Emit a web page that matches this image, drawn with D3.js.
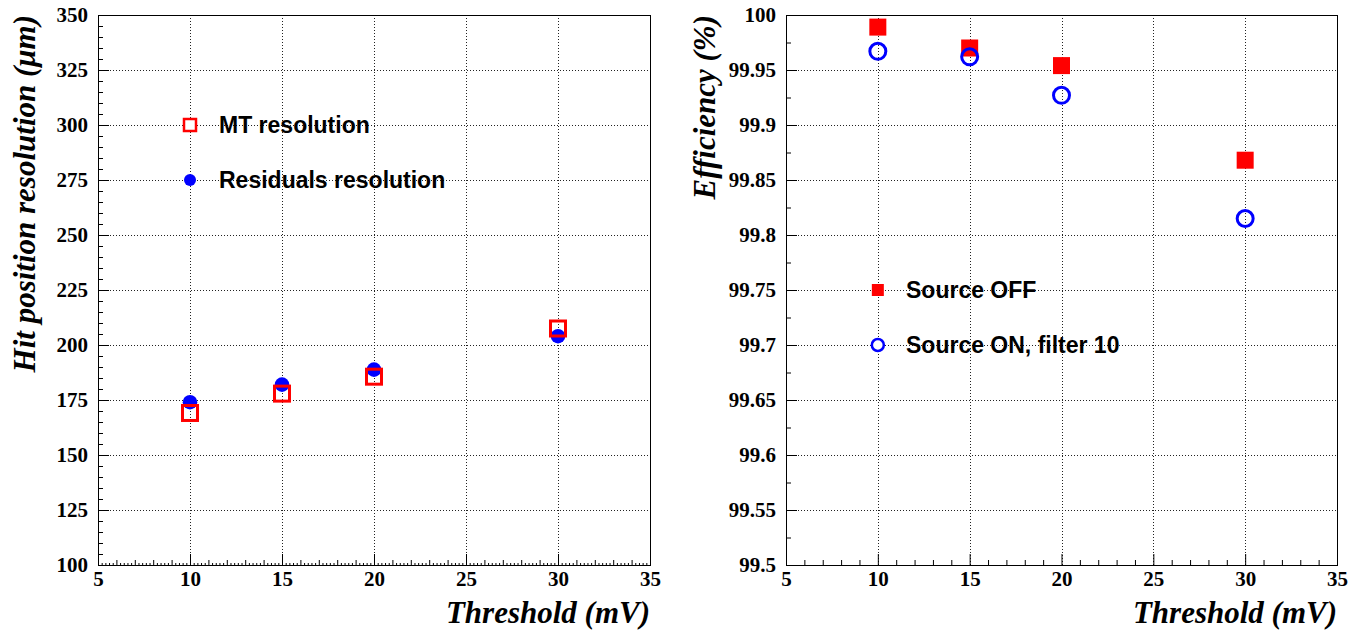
<!DOCTYPE html>
<html>
<head>
<meta charset="utf-8">
<script src="https://cdn.jsdelivr.net/npm/d3@7"></script>
<style>
  html, body { margin: 0; padding: 0; background: #fff; }
  svg { display: block; }
</style>
</head>
<body>
<svg id="chart" width="1361" height="632"></svg>
<script>
// ---------------- data ----------------
const thresholds = [10, 15, 20, 30];
const mtResolution = [169.1, 177.9, 185.6, 207.5];
const residualsResolution = [174.0, 182.0, 188.8, 204.0];
const effSourceOff = [99.989, 99.970, 99.954, 99.868];
const effSourceOn = [99.967, 99.962, 99.927, 99.815];

const xTicks = [5, 10, 15, 20, 25, 30, 35];
const leftYTicks = [100, 125, 150, 175, 200, 225, 250, 275, 300, 325, 350];
const rightYTicks = [99.5, 99.55, 99.6, 99.65, 99.7, 99.75, 99.8, 99.85, 99.9, 99.95, 100];
const rightYLabels = ["99.5", "99.55", "99.6", "99.65", "99.7", "99.75", "99.8", "99.85", "99.9", "99.95", "100"];

const leftLegend = ["MT resolution", "Residuals resolution"];
const rightLegend = ["Source OFF", "Source ON, filter 10"];
const leftYTitle = "Hit position resolution (\u03BCm)";
const rightYTitle = "Efficiency (%)";
const xTitle = "Threshold (mV)";

// ---------------- layout ----------------
const svg = d3.select("#chart");
const yTop = 15, yBottom = 565;
const RED = "#ff0000", BLUE = "#0000ff";
const serif = "'Liberation Serif', 'Times New Roman', serif";
const sans = "'Liberation Sans', Arial, Helvetica, sans-serif";

function drawPanel(opts) {
  const x = d3.scaleLinear().domain([5, 35]).range([opts.x0, opts.x1]);
  const y = d3.scaleLinear().domain(opts.yDomain).range([yBottom, yTop]);
  const g = svg.append("g");

  // grid
  const grid = g.append("g").attr("stroke", "#222").attr("stroke-width", 1)
    .attr("stroke-dasharray", "1,2").attr("shape-rendering", "crispEdges");
  grid.selectAll("line.gx").data(xTicks).join("line").attr("class", "gx")
    .attr("x1", d => Math.round(x(d)) + 0.5).attr("x2", d => Math.round(x(d)) + 0.5)
    .attr("y1", yTop).attr("y2", yBottom);
  grid.selectAll("line.gy").data(opts.yTicks).join("line").attr("class", "gy")
    .attr("y1", d => Math.round(y(d)) + 0.5).attr("y2", d => Math.round(y(d)) + 0.5)
    .attr("x1", opts.x0).attr("x2", opts.x1);

  // tertiary ticks (x)
  if (opts.xTiny) {
    const tiny = d3.range(5, 35.0001, 0.2).filter(v => Math.abs(v - Math.round(v)) > 0.01);
    g.append("g").attr("transform", `translate(0,${yBottom})`)
      .call(d3.axisBottom(x).tickValues(tiny).tickSizeInner(-2).tickSizeOuter(0).tickFormat(""))
      .call(s => s.select(".domain").remove());
  }
  // minor x ticks
  const xMinor = d3.range(6, 35).filter(v => v % 5 !== 0);
  g.append("g").attr("transform", `translate(0,${yBottom})`)
    .call(d3.axisBottom(x).tickValues(xMinor).tickSizeInner(-5).tickSizeOuter(0).tickFormat(""))
    .call(s => s.select(".domain").remove());
  // major x
  const ax = g.append("g").attr("transform", `translate(0,${yBottom})`)
    .call(d3.axisBottom(x).tickValues(xTicks).tickSizeInner(-11).tickSizeOuter(0).tickPadding(6).tickFormat(d3.format("d")));
  ax.select(".domain").remove();
  ax.selectAll("text").attr("font-family", serif).attr("font-weight", "bold")
    .attr("font-size", 21).attr("fill", "#000");

  // minor y ticks
  g.append("g").attr("transform", `translate(${opts.x0},0)`)
    .call(d3.axisLeft(y).tickValues(opts.yMinor).tickSizeInner(-5).tickSizeOuter(0).tickFormat(""))
    .call(s => s.select(".domain").remove());
  const ay = g.append("g").attr("transform", `translate(${opts.x0},0)`)
    .call(d3.axisLeft(y).tickValues(opts.yTicks).tickSizeInner(-11).tickSizeOuter(0).tickPadding(10)
      .tickFormat((d, i) => opts.yLabels[i]));
  ay.select(".domain").remove();
  ay.selectAll("text").attr("font-family", serif).attr("font-weight", "bold")
    .attr("font-size", 21).attr("fill", "#000");

  // frame
  g.append("rect").attr("x", opts.x0 + 0.5).attr("y", yTop + 0.5)
    .attr("width", opts.x1 - opts.x0).attr("height", yBottom - yTop)
    .attr("fill", "none").attr("stroke", "#000").attr("stroke-width", 1)
    .attr("shape-rendering", "crispEdges");

  // titles
  g.append("text").attr("x", opts.x1).attr("y", 623)
    .attr("text-anchor", "end").attr("font-family", serif)
    .attr("font-weight", "bold").attr("font-style", "italic")
    .attr("font-size", 31).text(xTitle);
  g.append("text").attr("transform", `translate(${opts.yTitleX},${yTop}) rotate(-90)`)
    .attr("text-anchor", "end").attr("font-family", serif)
    .attr("font-weight", "bold").attr("font-style", "italic")
    .attr("font-size", 31).text(opts.yTitle);

  return { g, x, y };
}

// ---------------- left panel ----------------
const L = drawPanel({
  x0: 98, x1: 650, yDomain: [100, 350], yTicks: leftYTicks,
  yLabels: leftYTicks.map(String),
  yMinor: d3.range(105, 350, 5).filter(v => v % 25 !== 0),
  yTitle: leftYTitle, yTitleX: 35, xTiny: true
});
const leftPts = thresholds.map((t, i) => ({ t, mt: mtResolution[i], res: residualsResolution[i] }));
L.g.append("g").selectAll("circle").data(leftPts).join("circle")
  .attr("cx", d => L.x(d.t)).attr("cy", d => L.y(d.res)).attr("r", 7.3).attr("fill", BLUE);
L.g.append("g").selectAll("rect").data(leftPts).join("rect")
  .attr("x", d => L.x(d.t) - 7.5).attr("y", d => L.y(d.mt) - 7.5)
  .attr("width", 15).attr("height", 15)
  .attr("fill", "none").attr("stroke", RED).attr("stroke-width", 3);

// left legend
const legL = L.g.append("g");
const legLy = [125, 180];
legL.append("rect").attr("x", L.x(10) - 6).attr("y", legLy[0] - 6).attr("width", 12).attr("height", 12)
  .attr("fill", "#fff").attr("stroke", RED).attr("stroke-width", 2.5);
legL.append("circle").attr("cx", L.x(10)).attr("cy", legLy[1]).attr("r", 6).attr("fill", BLUE);
legL.selectAll("text").data(leftLegend).join("text")
  .attr("x", 219).attr("y", (d, i) => legLy[i] + 8)
  .attr("font-family", sans).attr("font-weight", "bold").attr("font-size", 23)
  .text(d => d);

// ---------------- right panel ----------------
const R = drawPanel({
  x0: 786, x1: 1337, yDomain: [99.5, 100], yTicks: rightYTicks,
  yLabels: rightYLabels,
  yMinor: d3.range(0, 10).map(i => 99.525 + i * 0.05),
  yTitle: rightYTitle, yTitleX: 715, xTiny: false
});
const rightPts = thresholds.map((t, i) => ({ t, off: effSourceOff[i], on: effSourceOn[i] }));
R.g.append("g").selectAll("rect").data(rightPts).join("rect")
  .attr("x", d => R.x(d.t) - 8.5).attr("y", d => R.y(d.off) - 8.5)
  .attr("width", 17).attr("height", 17).attr("fill", RED);
R.g.append("g").selectAll("circle").data(rightPts).join("circle")
  .attr("cx", d => R.x(d.t)).attr("cy", d => R.y(d.on)).attr("r", 8)
  .attr("fill", "none").attr("stroke", BLUE).attr("stroke-width", 3);

// right legend
const legR = R.g.append("g");
const legRy = [290, 345];
legR.append("rect").attr("x", R.x(10) - 6).attr("y", legRy[0] - 6).attr("width", 12).attr("height", 12)
  .attr("fill", RED);
legR.append("circle").attr("cx", R.x(10)).attr("cy", legRy[1]).attr("r", 6)
  .attr("fill", "#fff").attr("stroke", BLUE).attr("stroke-width", 2.5);
legR.selectAll("text").data(rightLegend).join("text")
  .attr("x", 906).attr("y", (d, i) => legRy[i] + 8)
  .attr("font-family", sans).attr("font-weight", "bold").attr("font-size", 23)
  .text(d => d);
</script>
</body>
</html>
